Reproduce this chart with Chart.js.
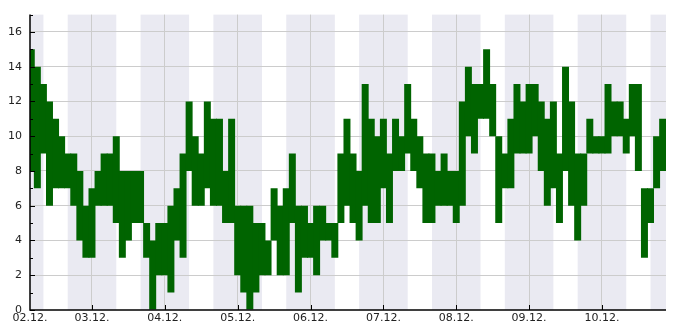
<!DOCTYPE html>
<html>
<head>
<meta charset="utf-8">
<script src="https://cdn.jsdelivr.net/npm/chart.js@4.4.1/dist/chart.umd.min.js"></script>
<style>
  html, body { margin: 0; padding: 0; background: #fff; }
  #wrap { width: 685px; height: 330px; }
</style>
</head>
<body>
<div id="wrap"><canvas id="chart" width="685" height="330"></canvas></div>
<script>
// Tageslabels der x-Achse (Mitternacht, ab 02.12.)
const dayLabels = ['02.12.', '03.12.', '04.12.', '05.12.', '06.12.', '07.12.', '08.12.', '09.12.', '10.12.'];

// Werte je 2-Stunden-Block: Maximum und Minimum (Stunden ab 02.12. 00:00)
const firstBinHour = 4;
const binHigh = [
  15, 14, 13, 12, 11, 10, 9, 9, 8, 6, 7, 8, 9, 9, 10,
  8, 8, 8, 8, 5, 4, 5, 5, 6, 7, 9, 12, 10, 9, 12,
  11, 11, 8, 11, 6, 6, 6, 5, 5, 4, 7, 6, 7, 9, 6,
  6, 5, 6, 6, 5, 5, 9, 11, 9, 8, 13, 11, 10, 11, 9,
  11, 10, 13, 11, 10, 9, 9, 8, 9, 8, 8, 12, 14, 13, 13,
  15, 13, 10, 9, 11, 13, 12, 13, 13, 12, 11, 12, 9, 14, 12,
  9, 9, 11, 10, 10, 13, 12, 12, 11, 13, 13, 7, 7, 10, 11
];
const binLow = [
  8, 7, 9, 6, 7, 7, 7, 6, 4, 3, 3, 6, 6, 6, 5,
  3, 4, 5, 5, 3, 0, 2, 2, 1, 4, 3, 8, 6, 6, 7,
  6, 6, 5, 5, 2, 1, 0, 1, 2, 2, 4, 2, 2, 5, 1,
  3, 3, 2, 4, 4, 3, 5, 6, 5, 4, 6, 5, 5, 7, 5,
  8, 8, 9, 8, 7, 5, 5, 6, 6, 6, 5, 6, 10, 9, 11,
  11, 10, 5, 7, 7, 9, 9, 9, 10, 8, 6, 7, 5, 8, 6,
  4, 6, 9, 9, 9, 9, 10, 10, 9, 10, 8, 3, 5, 7, 8
];

// Achsenbereich in Stunden
const xMin = 3.58;
const xMax = 213.1;
const yMax = 17;

// Nachtbereiche (grau hinterlegt) von 16 Uhr bis 8 Uhr
const nightStart = 16;
const nightEnd = 8;

const ranges = binHigh.map((hi, i) => ({ x: firstBinHour + i * 2, y: [binLow[i], hi] }));

const bandPlugin = {
  id: 'nightBands',
  beforeDraw(chart) {
    const { ctx, chartArea } = chart;
    const xs = chart.scales.x;
    ctx.save();
    ctx.fillStyle = '#eaeaf2';
    for (let d = -1; d < dayLabels.length + 1; d++) {
      const a = Math.max(xs.getPixelForValue(d * 24 + nightStart), chartArea.left);
      const b = Math.min(xs.getPixelForValue((d + 1) * 24 + nightEnd), chartArea.right);
      if (b > a) ctx.fillRect(a, chartArea.top, b - a, chartArea.bottom - chartArea.top);
    }
    ctx.restore();
  }
};

const axisPlugin = {
  id: 'axesInward',
  afterDatasetsDraw(chart) {
    const { ctx, chartArea } = chart;
    const xs = chart.scales.x;
    const ys = chart.scales.y;
    ctx.save();
    ctx.strokeStyle = '#000';
    ctx.lineWidth = 1;
    // Striche an der y-Achse (nach innen)
    for (let v = 0; v <= yMax; v++) {
      const y = Math.round(ys.getPixelForValue(v)) + 0.5;
      const len = v % 2 === 0 ? 5 : 3;
      ctx.beginPath();
      ctx.moveTo(chartArea.left, y);
      ctx.lineTo(chartArea.left + len, y);
      ctx.stroke();
    }
    // Striche an der x-Achse
    for (let d = 1; d < dayLabels.length; d++) {
      const x = Math.round(xs.getPixelForValue(d * 24)) + 0.5;
      ctx.beginPath();
      ctx.moveTo(x, chartArea.bottom);
      ctx.lineTo(x, chartArea.bottom - 5);
      ctx.stroke();
    }
    // Achsenlinien
    ctx.lineWidth = 1.5;
    ctx.beginPath();
    ctx.moveTo(chartArea.left, chartArea.top);
    ctx.lineTo(chartArea.left, chartArea.bottom);
    ctx.lineTo(chartArea.right, chartArea.bottom);
    ctx.stroke();
    ctx.restore();
  }
};

const labelFont = { family: 'DejaVu Sans', size: 11 };

new Chart(document.getElementById('chart').getContext('2d'), {
  type: 'bar',
  data: {
    datasets: [{
      data: ranges,
      backgroundColor: '#006400',
      borderWidth: 0,
      borderSkipped: false,
      barPercentage: 1.15,
      categoryPercentage: 1
    }]
  },
  options: {
    responsive: false,
    animation: false,
    layout: { padding: { left: 0, top: 10, right: 19, bottom: 0 } },
    plugins: { legend: { display: false }, tooltip: { enabled: false } },
    scales: {
      x: {
        type: 'linear',
        min: xMin,
        max: xMax,
        offset: false,
        afterBuildTicks(scale) {
          const t = [{ value: xMin }];
          for (let d = 1; d < dayLabels.length; d++) t.push({ value: d * 24 });
          scale.ticks = t;
        },
        afterFit(scale) { scale.height = 20; },
        grid: {
          offset: false,
          drawTicks: false,
          color: c => (c.tick && c.tick.value > xMin + 0.1) ? '#cccccc' : 'rgba(0,0,0,0)'
        },
        border: { display: false },
        ticks: {
          autoSkip: false,
          maxRotation: 0,
          padding: 2,
          color: '#222',
          font: labelFont,
          callback: v => dayLabels[Math.floor(v / 24)]
        }
      },
      y: {
        min: 0,
        max: yMax,
        afterFit(scale) { scale.width = 30; },
        grid: {
          drawTicks: false,
          color: c => (c.tick && c.tick.value % 2 === 0 && c.tick.value > 0) ? '#cccccc' : 'rgba(0,0,0,0)'
        },
        border: { display: false },
        ticks: {
          stepSize: 1,
          autoSkip: false,
          padding: 8,
          color: '#222',
          font: labelFont,
          callback: v => (v % 2 === 0 ? String(v) : '')
        }
      }
    }
  },
  plugins: [bandPlugin, axisPlugin]
});
</script>
</body>
</html>
